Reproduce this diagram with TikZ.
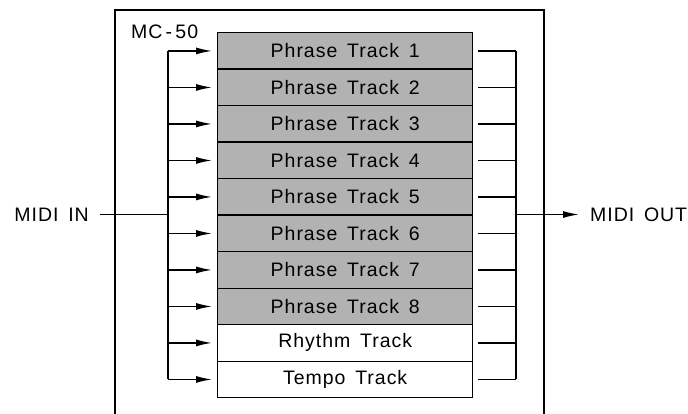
\documentclass[tikz,border=0pt]{standalone}
\usepackage{fontspec}
\setmainfont{Liberation Sans}[LetterSpace=5]
\usetikzlibrary{arrows.meta}
\newcommand{\wgap}{\hspace{0.5em}}
\begin{document}
\begin{tikzpicture}[x=1pt,y=-1pt,
  txt/.style={font=\fontsize{19.5}{22}\selectfont},
  track/.style={txt, draw, line width=1.4pt, minimum width=255pt,
    minimum height=36.5pt, anchor=north west, inner sep=0pt},
  phrase/.style={track, fill=black!30},
  wire/.style={line width=1.4pt},
  feed/.style={wire, -{Latex[length=16pt,width=7pt]}}]
\useasboundingbox (0,0) rectangle (688,414);

% enclosure of the sequencer, open toward the bottom
\draw[line width=1.6pt] (115,416) -- (115,10) -- (544,10) -- (544,416);
\node[txt, anchor=base west, inner sep=0pt] (mc) at (131,39) {MC\,-\,50};

% track stack
\foreach \i in {1,...,8}
  \node[phrase] (t\i) at (217,{32+36.5*(\i-1)}) {Phrase\wgap Track\wgap\i};
\node[track] (t9) at (217,{32+36.5*8}) {Rhythm\wgap Track};
\node[track] (t10) at (217,{32+36.5*9}) {Tempo\wgap Track};

% input and output
\node[txt, anchor=east, inner xsep=11pt, inner ysep=0pt] (in) at (100,214.5) {MIDI\wgap IN};
\node[txt, anchor=west, inner xsep=11pt, inner ysep=0pt] (out) at (579,214.5) {MIDI\wgap OUT};
\coordinate (lb) at (168,214.5);
\coordinate (rb) at (516,214.5);

% distribution bus
\draw[wire] (in.east) -- (lb);
\draw[wire] (lb|-t1.west) -- (lb|-t10.west);
\foreach \i in {1,...,10}
  \draw[feed] (lb|-t\i.west) -- ([xshift=-5pt]t\i.west);

% merge bus
\foreach \i in {1,...,10}
  \draw[wire] ([xshift=5pt]t\i.east) -- (rb|-t\i.east);
\draw[wire] (rb|-t1.east) -- (rb|-t10.east);
\draw[feed] (rb) -- (out.west);
\end{tikzpicture}
\end{document}
